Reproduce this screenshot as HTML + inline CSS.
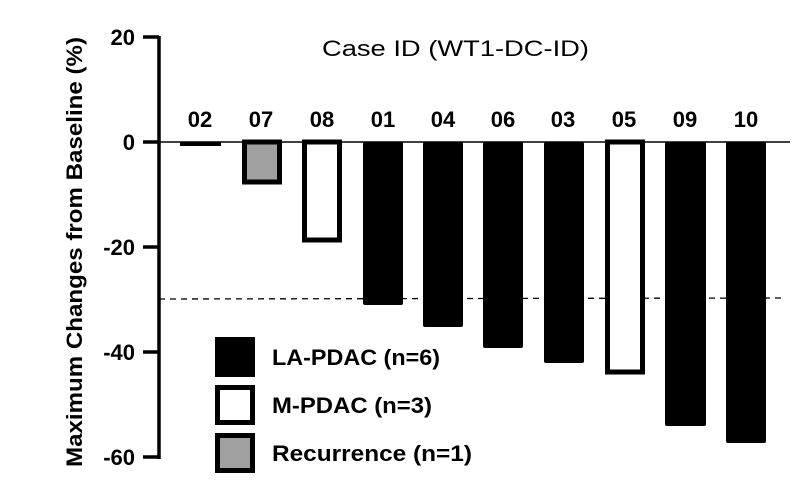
<!DOCTYPE html>
<html><head><style>body{margin:0;background:#fff}</style></head><body>
<svg width="800" height="491" xmlns="http://www.w3.org/2000/svg" font-family="Liberation Sans, Arial, sans-serif">
<rect width="800" height="491" fill="#fff"/>
<line x1="159" y1="36" x2="159" y2="459" stroke="#000" stroke-width="3.5"/>
<g stroke="#000" stroke-width="3.5">
<line x1="143" y1="37" x2="159" y2="37"/><line x1="143" y1="142" x2="159" y2="142"/>
<line x1="143" y1="247" x2="159" y2="247"/><line x1="143" y1="352" x2="159" y2="352"/>
<line x1="143" y1="457" x2="159" y2="457"/></g>
<line x1="159" y1="142" x2="790" y2="142" stroke="#000" stroke-width="1.5"/>
<g font-weight="bold" font-size="22" text-anchor="end">
<text x="135" y="45">20</text><text x="135" y="150">0</text><text x="135" y="255">-20</text>
<text x="135" y="360">-40</text><text x="135" y="465">-60</text></g>
<text transform="translate(82,252) rotate(-90)" text-anchor="middle" font-weight="bold" font-size="22" textLength="430" lengthAdjust="spacingAndGlyphs">Maximum Changes from Baseline (%)</text>
<text x="322" y="56" font-size="22" textLength="267" lengthAdjust="spacingAndGlyphs">Case ID (WT1-DC-ID)</text>
<g font-weight="bold" font-size="22" text-anchor="middle">
<text x="200" y="127">02</text><text x="261" y="127">07</text><text x="322" y="127">08</text>
<text x="383" y="127">01</text><text x="443" y="127">04</text><text x="503" y="127">06</text>
<text x="563" y="127">03</text><text x="624" y="127">05</text><text x="685" y="127">09</text><text x="746" y="127">10</text></g>
<line x1="159" y1="299" x2="785" y2="298" stroke="#000" stroke-width="1.3" stroke-dasharray="6,5"/>
<rect x="180" y="142" width="41" height="4" fill="#000"/>
<rect x="244.5" y="142" width="35" height="40" fill="#a0a0a0" stroke="#000" stroke-width="5"/>
<rect x="304.5" y="142" width="35" height="98" fill="#fff" stroke="#000" stroke-width="5"/>
<rect x="363" y="142" width="40" height="163" rx="2" fill="#000"/>
<rect x="423" y="142" width="40" height="185" rx="2" fill="#000"/>
<rect x="483" y="142" width="40" height="206" rx="2" fill="#000"/>
<rect x="544" y="142" width="40" height="221" rx="2" fill="#000"/>
<rect x="607.5" y="142" width="35" height="230" fill="#fff" stroke="#000" stroke-width="5"/>
<rect x="665" y="142" width="41" height="284" rx="2" fill="#000"/>
<rect x="726" y="142" width="40" height="301" rx="2" fill="#000"/>
<rect x="215" y="337" width="40" height="40" fill="#000"/>
<rect x="217.5" y="387.5" width="35" height="35" fill="#fff" stroke="#000" stroke-width="5"/>
<rect x="217.5" y="435.5" width="35" height="35" fill="#a0a0a0" stroke="#000" stroke-width="5"/>
<g font-weight="bold" font-size="22">
<text x="272" y="365" textLength="168" lengthAdjust="spacingAndGlyphs">LA-PDAC (n=6)</text>
<text x="272" y="413" textLength="160" lengthAdjust="spacingAndGlyphs">M-PDAC (n=3)</text>
<text x="272" y="461" textLength="200" lengthAdjust="spacingAndGlyphs">Recurrence (n=1)</text></g>
</svg>
</body></html>
